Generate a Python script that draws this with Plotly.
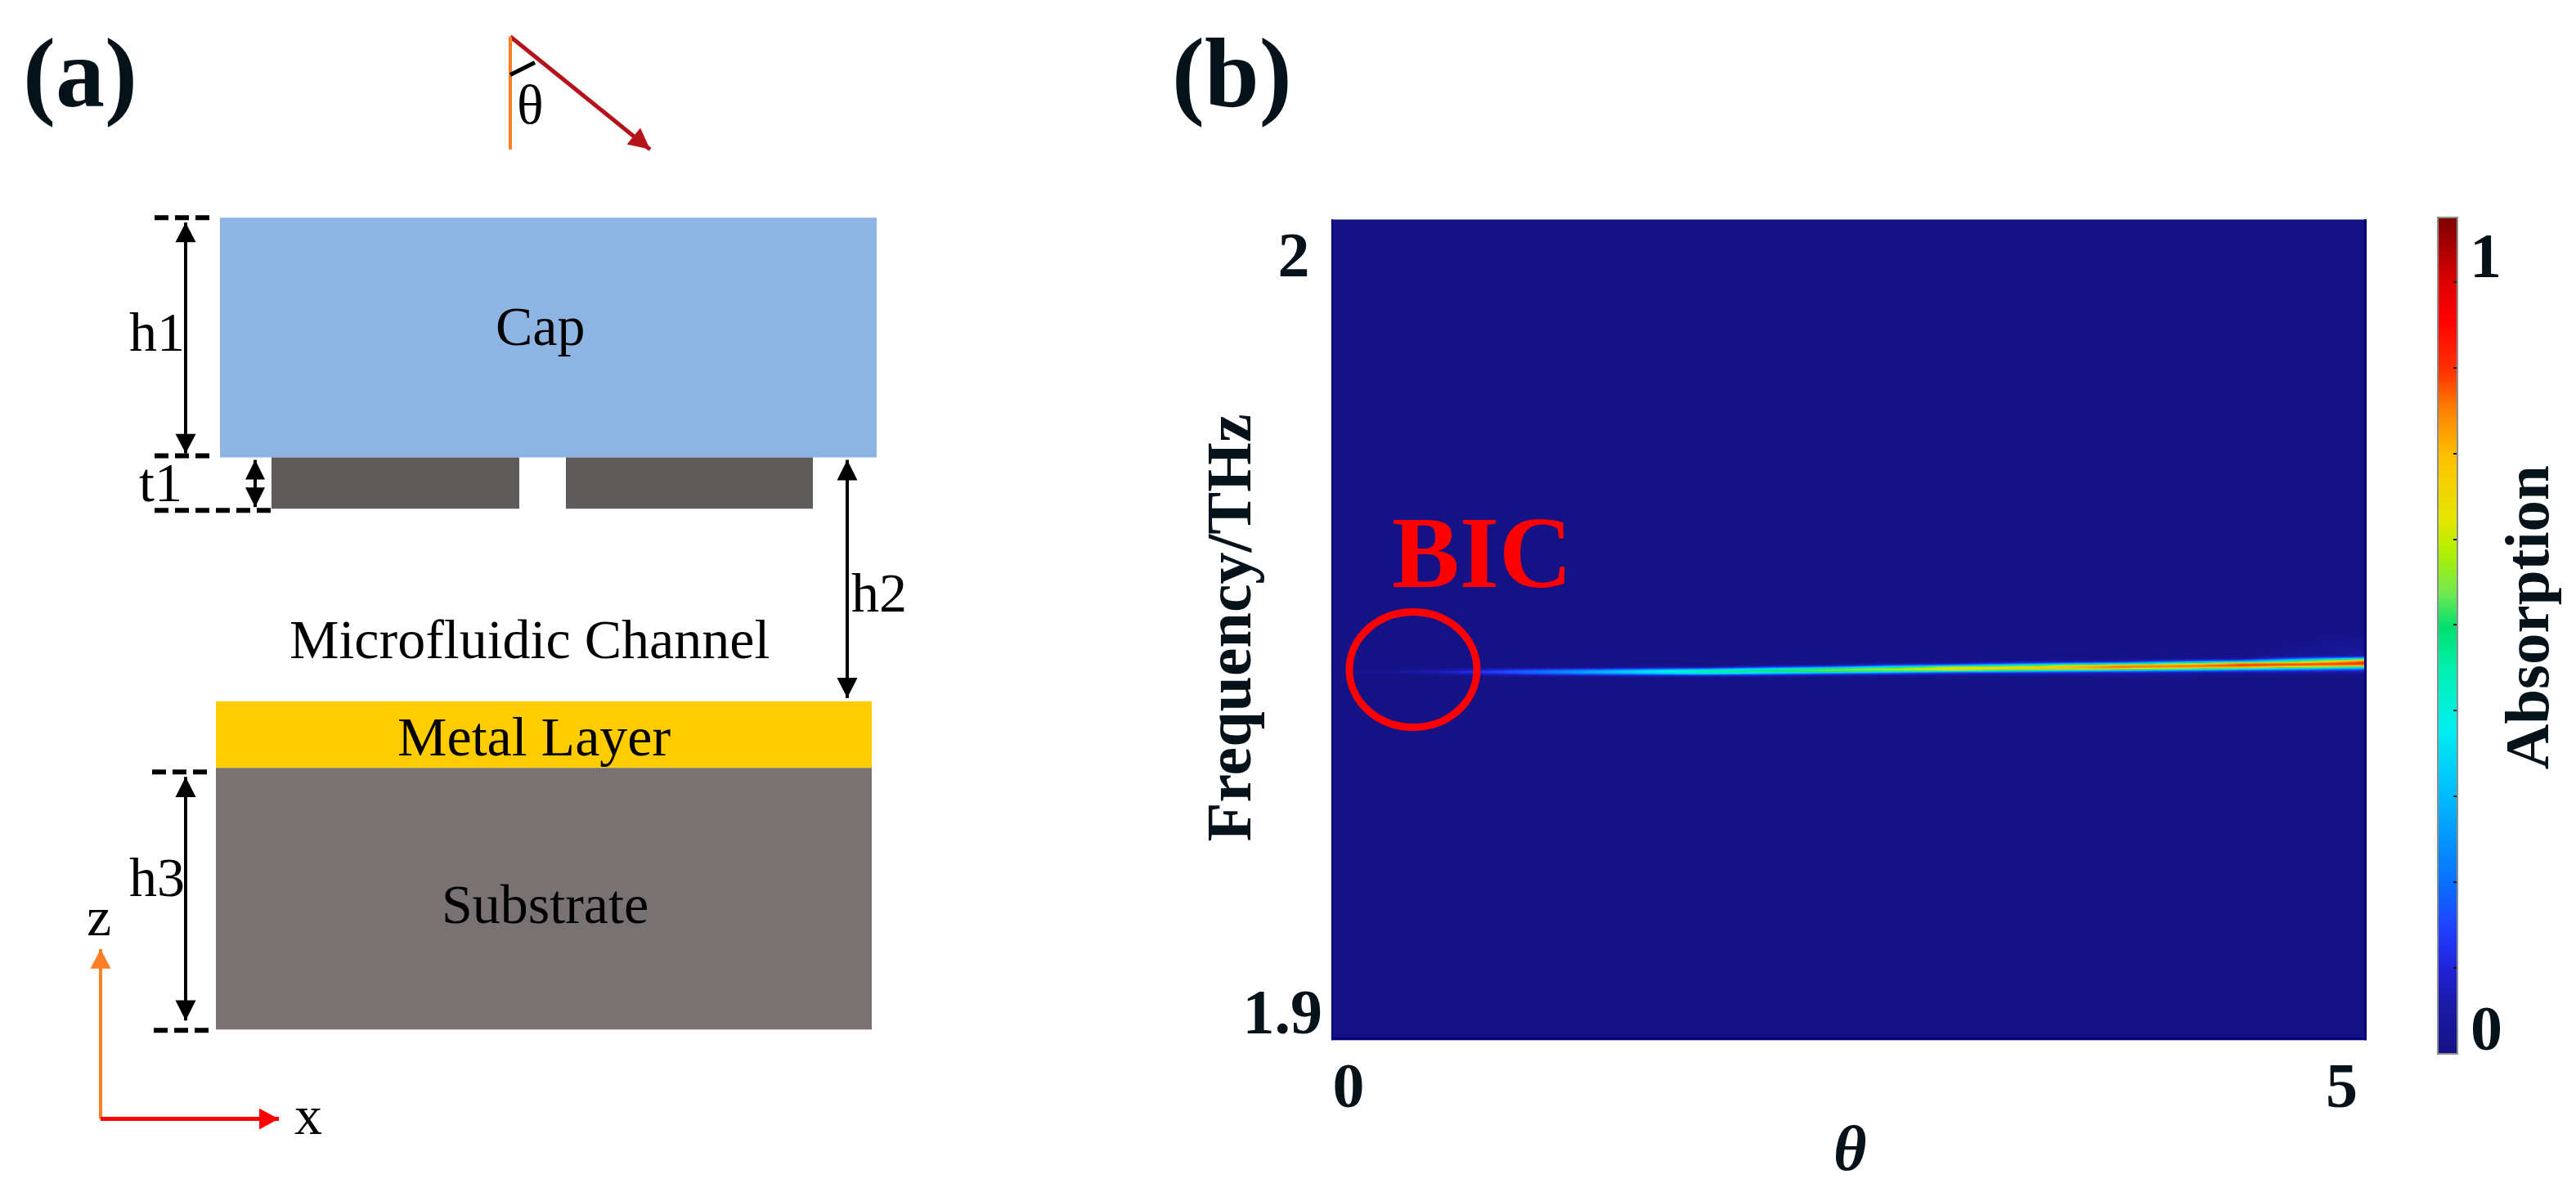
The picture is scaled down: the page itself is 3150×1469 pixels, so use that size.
import plotly.graph_objects as go

W, H = 3150, 1469
MAP_TOP, MAP_BOTTOM = 270, 1280

# ---------- panel (b) data ----------
theta_deg = [0, 0.25, 0.5, 0.9, 1.3, 1.8, 2.4, 3.0, 3.8, 4.4, 5.0]
freq_thz = [1.9000, 1.9400, 1.9441, 1.9443, 1.9445, 1.9447, 1.9449, 1.9451, 1.9453, 1.9455,
            1.9457, 1.9459, 1.9461, 1.9463, 1.9465, 1.9467, 1.9469, 1.9500, 2.0000]
# one list per theta, one value per frequency
abs_t00 = [0, 0, 0, 0, 0, 0, .01, 0, 0, 0, 0, 0, 0, 0, 0, 0, 0, 0, 0]
abs_t01 = [0, 0, 0, 0, 0, .015, .03, .015, 0, 0, 0, 0, 0, 0, 0, 0, 0, 0, 0]
abs_t02 = [0, 0, 0, 0, .01, .04, .08, .04, .01, 0, 0, 0, 0, 0, 0, 0, 0, 0, 0]
abs_t03 = [0, 0, 0, .01, .06, .14, .19, .14, .06, .01, 0, 0, 0, 0, 0, 0, 0, 0, 0]
abs_t04 = [0, 0, 0, .02, .1, .24, .31, .24, .1, .02, 0, 0, 0, 0, 0, 0, 0, 0, 0]
abs_t05 = [0, 0, 0, .03, .14, .36, .46, .42, .2, .04, 0, 0, 0, 0, 0, 0, 0, 0, 0]
abs_t06 = [0, 0, 0, .02, .06, .2, .46, .56, .48, .22, .06, .01, 0, 0, 0, 0, 0, 0, 0]
abs_t07 = [0, 0, 0, .01, .03, .09, .26, .56, .67, .58, .28, .09, .02, 0, 0, 0, 0, 0, 0]
abs_t08 = [0, 0, 0, .01, .02, .05, .14, .36, .68, .77, .7, .4, .14, .04, .01, 0, 0, 0, 0]
abs_t09 = [0, 0, 0, 0, .01, .03, .08, .2, .42, .72, .8, .76, .46, .18, .05, .01, 0, 0, 0]
abs_t10 = [0, 0, 0, 0, .01, .02, .05, .12, .24, .46, .72, .81, .8, .72, .44, .18, .05, 0, 0]
absorption = [abs_t00, abs_t01, abs_t02, abs_t03, abs_t04, abs_t05, abs_t06, abs_t07, abs_t08, abs_t09, abs_t10]

x_tick_vals, x_tick_text = [0.083, 4.88], ["0", "5"]
y_tick_vals, y_tick_text = [1.9035, 1.9958], ["1.9", "2\u2009"]
colorbar_minor_ticks = [0.1, 0.2, 0.3, 0.4, 0.5, 0.6, 0.7, 0.8, 0.9]
Z_MAX = 0.975

absorption_scale = [
    [0.00, "#151285"], [0.06, "#1a1aa8"], [0.10, "#2020d8"], [0.15, "#2040ff"], [0.20, "#0a6cff"],
    [0.305, "#00b8ff"], [0.39, "#00f0f0"], [0.46, "#00f0b0"], [0.51, "#00e070"], [0.55, "#70e850"],
    [0.60, "#b0f000"], [0.64, "#e6e600"], [0.715, "#ffc000"], [0.77, "#ff8000"], [0.818, "#ff3000"],
    [0.88, "#ff0000"], [0.92, "#e00000"], [1.00, "#7d0000"],
]

# ---------- panel (a) schematic layers (pixel frame of the schematic) ----------
layer_names = ["Cap", "Block L", "Block R", "Metal Layer", "Substrate"]
layer_x0 = [269, 332, 692, 264, 264]
layer_x1 = [1072, 635, 994, 1066, 1066]
layer_y0 = [268, 563, 563, 863, 945]
layer_y1 = [563, 626, 626, 945, 1267]
layer_colors = ["#8EB4E3", "#5F5B5A", "#5F5B5A", "#FFCC00", "#797272"]

dash_lines = [(189, 268, 262), (189, 561, 262), (189, 628, 332), (186, 950, 258), (188, 1268, 260)]

# x0, y0, x1, y1, colour, width, head length, head width, both ends
arrows = [
    (227, 274, 227, 558, "#000000", 4, 24, 25, True),
    (312, 566, 312, 624, "#000000", 4, 24, 24, True),
    (1036, 566, 1036, 859, "#000000", 4, 25, 25, True),
    (227, 956, 227, 1256, "#000000", 4, 25, 25, True),
    (624, 45, 795, 184, "#B5121B", 5, 26, 26, False),
    (123, 1377, 123, 1168, "#FF7F27", 4, 24, 25, False),
    (123, 1377, 341, 1377, "#FF0000", 5, 24, 26, False),
]

labels = [
    ("Cap", 661, 401, 68), ("Microfluidic Channel", 647, 787, 68), ("Metal Layer", 653, 907, 68),
    ("Substrate", 666, 1113, 68), ("h1", 192, 408, 68), ("t1", 196, 594, 68), ("h2", 1075, 729, 68),
    ("h3", 192, 1080, 68), ("z", 121, 1128, 68), ("x", 377, 1372, 68), ("\u03b8", 648, 129, 68),
]
bold_labels = [
    ("(a)", 98, 90, 120, "#06121a"), ("(b)", 1506, 90, 120, "#06121a"),
    ("BIC", 1812, 681, 124, "#FF0000"), ("1", 3039, 314, 78, "#06121a"), ("0", 3040, 1265, 78, "#06121a"),
]

SERIF = "Liberation Serif"
fig = go.Figure()

z_by_freq = [list(row) for row in zip(*absorption)]
fig.add_trace(go.Heatmap(
    x=theta_deg, y=freq_thz, z=z_by_freq, zmin=0, zmax=Z_MAX, zsmooth="best",
    colorscale=absorption_scale, xaxis="x2", yaxis="y2", hoverinfo="skip",
    colorbar=dict(
        x=2981 / W, xanchor="left", xpad=0, y=(H - 1297) / H, yanchor="bottom", ypad=0,
        thicknessmode="pixels", thickness=24, lenmode="pixels", len=1023,
        tickmode="array", tickvals=colorbar_minor_ticks, ticks="inside", ticklen=6, tickwidth=2,
        tickcolor="#101010", showticklabels=False, outlinecolor="#8a8f90", outlinewidth=2,
    ),
))

shapes, annotations = [], []


def px_line(x0, y0, x1, y1, color, width, dash="solid"):
    shapes.append(dict(type="line", xref="x", yref="y", x0=x0, y0=y0, x1=x1, y1=y1,
                       line=dict(color=color, width=width, dash=dash), layer="above"))


def head(xt, yt, xs, ys, color, length, width):
    dx, dy = xt - xs, yt - ys
    n = (dx * dx + dy * dy) ** 0.5
    ux, uy = dx / n, dy / n
    bx, by = xt - ux * length, yt - uy * length
    px_, py_ = -uy * width / 2, ux * width / 2
    shapes.append(dict(type="path", xref="x", yref="y", layer="above", fillcolor=color, line=dict(width=0),
                       path=f"M{xt},{yt} L{bx + px_},{by + py_} L{bx - px_},{by - py_} Z"))


for x0, x1, y0, y1, c in zip(layer_x0, layer_x1, layer_y0, layer_y1, layer_colors):
    shapes.append(dict(type="rect", xref="x", yref="y", x0=x0, x1=x1, y0=y0, y1=y1,
                       fillcolor=c, line=dict(width=0), layer="above"))

for x0, y, x1 in dash_lines:
    px_line(x0, y, x1, y, "#000000", 6, "17px,8px")

for x0, y0, x1, y1, c, w, hl, hw, both in arrows:
    px_line(x0, y0, x1, y1, c, w)
    head(x1, y1, x0, y0, c, hl, hw)
    if both:
        head(x0, y0, x1, y1, c, hl, hw)

# theta construction: normal and angle tick
px_line(624, 45, 624, 184, "#FF7F27", 4)
px_line(624, 92, 654, 77, "#000000", 5)

# dark rim of the map
px_line(2892.5, MAP_TOP, 2892.5, MAP_BOTTOM, "#00007d", 3)
px_line(1628, MAP_BOTTOM - 1.5, 2894, MAP_BOTTOM - 1.5, "#00007d", 3)
px_line(1629, MAP_TOP, 1629, MAP_BOTTOM, "#00007d", 2)

# BIC ring
shapes.append(dict(type="circle", xref="x", yref="y", x0=1650, x1=1806, y0=753, y1=895,
                   line=dict(color="#FF0000", width=9), layer="above"))

# left-hand colour-bar ticks, from the colour-bar's own scale
for v in colorbar_minor_ticks:
    yy = 1297 - 1023 * v / Z_MAX
    px_line(2981, yy, 2987, yy, "#101010", 2)

for text, cx, cy, size in labels:
    annotations.append(dict(text=text, x=cx, y=cy, xref="x", yref="y", showarrow=False,
                            font=dict(family=SERIF, size=size, color="#000000")))
for text, cx, cy, size, col in bold_labels:
    annotations.append(dict(text=f"<b>{text}</b>", x=cx, y=cy, xref="x", yref="y", showarrow=False,
                            font=dict(family=SERIF, size=size, color=col)))
annotations.append(dict(text="<b>Frequency/THz</b>", x=1502, y=773, xref="x", yref="y", showarrow=False,
                        textangle=-90, font=dict(family=SERIF, size=78, color="#06121a")))
annotations.append(dict(text="<b>Absorption</b>", x=3090, y=760, xref="x", yref="y", showarrow=False,
                        textangle=-90, font=dict(family=SERIF, size=77, color="#06121a")))
annotations.append(dict(text="<b><i>\u03b8</i></b>", x=2262, y=1413, xref="x", yref="y", showarrow=False,
                        font=dict(family=SERIF, size=78, color="#06121a")))

hidden = dict(showgrid=False, zeroline=False, showline=False)
fig.update_layout(
    width=W, height=H, margin=dict(l=0, r=0, t=0, b=0), paper_bgcolor="white", plot_bgcolor="white",
    showlegend=False, shapes=shapes, annotations=annotations,
    xaxis=dict(domain=[0, 1], range=[0, W], visible=False, fixedrange=True),
    yaxis=dict(domain=[0, 1], range=[H, 0], visible=False, fixedrange=True),
    xaxis2=dict(domain=[1628 / W, 2894 / W], range=[0, 5], anchor="y2", tickmode="array",
                tickvals=x_tick_vals, ticktext=x_tick_text, ticks="", ticklabelstandoff=3,
                tickfont=dict(family=SERIF, size=78, color="#06121a", weight="bold"), **hidden),
    yaxis2=dict(domain=[(H - MAP_BOTTOM) / H, (H - MAP_TOP) / H], range=[1.9, 2.0], anchor="x2", tickmode="array",
                tickvals=y_tick_vals, ticktext=y_tick_text, ticks="", ticklabelstandoff=10,
                tickfont=dict(family=SERIF, size=78, color="#06121a", weight="bold"), **hidden),
)

# the page's default body margin would push the figure 8 px off its frame
fig.write_html("out.html", config=dict(displayModeBar=False),
               post_script="document.body.style.margin='0';document.documentElement.style.overflow='hidden';")
